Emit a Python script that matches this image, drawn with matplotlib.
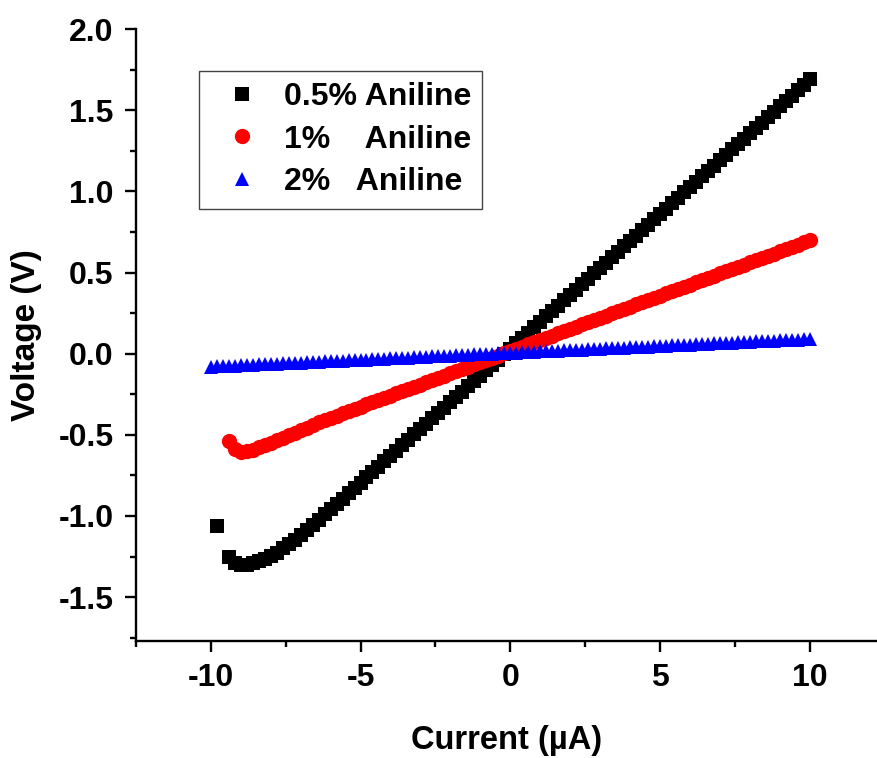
import numpy as np
import matplotlib
matplotlib.use('Agg')
import matplotlib.pyplot as plt
from matplotlib.ticker import MultipleLocator

plt.rcParams['font.family'] = ['Liberation Sans', 'DejaVu Sans']
plt.rcParams['font.weight'] = 'bold'
plt.rcParams['axes.unicode_minus'] = False

nan = np.nan

# Current sweep (uA)
current = [
    -10.0, -9.8, -9.6, -9.4, -9.2, -9.0, -8.8, -8.6, -8.4, -8.2,
    -8.0, -7.8, -7.6, -7.4, -7.2, -7.0, -6.8, -6.6, -6.4, -6.2,
    -6.0, -5.8, -5.6, -5.4, -5.2, -5.0, -4.8, -4.6, -4.4, -4.2,
    -4.0, -3.8, -3.6, -3.4, -3.2, -3.0, -2.8, -2.6, -2.4, -2.2,
    -2.0, -1.8, -1.6, -1.4, -1.2, -1.0, -0.8, -0.6, -0.4, -0.2,
    0.0, 0.2, 0.4, 0.6, 0.8, 1.0, 1.2, 1.4, 1.6, 1.8,
    2.0, 2.2, 2.4, 2.6, 2.8, 3.0, 3.2, 3.4, 3.6, 3.8,
    4.0, 4.2, 4.4, 4.6, 4.8, 5.0, 5.2, 5.4, 5.6, 5.8,
    6.0, 6.2, 6.4, 6.6, 6.8, 7.0, 7.2, 7.4, 7.6, 7.8,
    8.0, 8.2, 8.4, 8.6, 8.8, 9.0, 9.2, 9.4, 9.6, 9.8,
    10.0,
]

# Voltage (V) for each sample
v_05 = [
    nan, -1.06, nan, -1.25, -1.29, -1.30, -1.30, -1.29, -1.28, -1.265,
    -1.245, -1.225, -1.20, -1.175, -1.145, -1.115, -1.085, -1.055, -1.025, -0.99,
    -0.96, -0.927, -0.894, -0.861, -0.828, -0.795, -0.762, -0.729, -0.696, -0.663,
    -0.630, -0.597, -0.564, -0.531, -0.498, -0.465, -0.432, -0.399, -0.366, -0.333,
    -0.300, -0.267, -0.234, -0.201, -0.168, -0.135, -0.102, -0.069, -0.036, -0.003,
    0.030, 0.063, 0.096, 0.130, 0.163, 0.196, 0.229, 0.262, 0.296, 0.329,
    0.362, 0.395, 0.428, 0.462, 0.495, 0.528, 0.561, 0.594, 0.628, 0.661,
    0.694, 0.727, 0.760, 0.794, 0.827, 0.860, 0.893, 0.926, 0.960, 0.993,
    1.026, 1.059, 1.092, 1.126, 1.159, 1.192, 1.225, 1.258, 1.292, 1.325,
    1.358, 1.391, 1.424, 1.458, 1.491, 1.524, 1.557, 1.590, 1.624, 1.657,
    1.690,
]

v_1 = [
    nan, nan, nan, -0.54, -0.59, -0.603, -0.600, -0.592, -0.578, -0.563,
    -0.548, -0.533, -0.517, -0.502, -0.486, -0.470, -0.455, -0.440, -0.422, -0.408,
    -0.395, -0.381, -0.367, -0.354, -0.340, -0.326, -0.313, -0.299, -0.285, -0.272,
    -0.258, -0.244, -0.231, -0.217, -0.203, -0.190, -0.176, -0.162, -0.149, -0.135,
    -0.121, -0.107, -0.094, -0.080, -0.066, -0.053, -0.039, -0.025, -0.012, 0.002,
    0.016, 0.029, 0.043, 0.057, 0.070, 0.084, 0.098, 0.111, 0.125, 0.139,
    0.152, 0.166, 0.180, 0.193, 0.207, 0.221, 0.234, 0.248, 0.262, 0.276,
    0.289, 0.303, 0.317, 0.330, 0.344, 0.358, 0.371, 0.385, 0.399, 0.412,
    0.426, 0.440, 0.453, 0.467, 0.481, 0.494, 0.508, 0.522, 0.535, 0.549,
    0.563, 0.576, 0.590, 0.604, 0.617, 0.631, 0.645, 0.659, 0.672, 0.686,
    0.700,
]

v_2 = [
    -0.080, -0.078, -0.077, -0.075, -0.073, -0.072, -0.070, -0.068, -0.066, -0.065,
    -0.063, -0.061, -0.060, -0.058, -0.056, -0.055, -0.053, -0.051, -0.049, -0.048,
    -0.046, -0.044, -0.043, -0.041, -0.039, -0.038, -0.036, -0.034, -0.032, -0.031,
    -0.029, -0.027, -0.026, -0.024, -0.022, -0.021, -0.019, -0.017, -0.015, -0.014,
    -0.012, -0.010, -0.009, -0.007, -0.005, -0.004, -0.002, 0.000, 0.002, 0.003,
    0.005, 0.007, 0.008, 0.010, 0.012, 0.014, 0.015, 0.017, 0.019, 0.020,
    0.022, 0.024, 0.025, 0.027, 0.029, 0.031, 0.032, 0.034, 0.036, 0.037,
    0.039, 0.041, 0.042, 0.044, 0.046, 0.048, 0.049, 0.051, 0.053, 0.054,
    0.056, 0.058, 0.059, 0.061, 0.063, 0.065, 0.066, 0.068, 0.070, 0.071,
    0.073, 0.075, 0.076, 0.078, 0.080, 0.082, 0.083, 0.085, 0.087, 0.088,
    0.090,
]

labels = ['0.5% Aniline', '1%    Aniline', '2%   Aniline']

fig = plt.figure(figsize=(8.77, 7.58), dpi=100)
ax = fig.add_axes([0.155, 0.1544, 0.845, 0.8073])

# black, red, blue (blue on top)
ax.plot(current, v_05, 's', color='black', ms=9.5, mew=0, label=labels[0])
ax.plot(current, v_1, 'o', color='red', ms=11, mew=0, label=labels[1])
ax.plot(current, v_2, '^', color='blue', ms=10.5, mew=0, label=labels[2])

ax.set_xlim(-12.5, 12.25)
ax.set_ylim(-1.77, 2.0)

ax.xaxis.set_major_locator(MultipleLocator(5))
ax.xaxis.set_minor_locator(MultipleLocator(2.5))
ax.yaxis.set_major_locator(MultipleLocator(0.5))
ax.yaxis.set_minor_locator(MultipleLocator(0.25))

ax.spines['top'].set_visible(False)
ax.spines['right'].set_visible(False)
ax.spines['left'].set_linewidth(1.7)
ax.spines['bottom'].set_linewidth(1.7)

ax.tick_params(which='major', direction='out', length=8, width=1.7,
               labelsize=23, pad=8)
ax.tick_params(which='minor', direction='out', length=4, width=1.7)

ax.set_xlabel('Current (\u00b5A)', fontsize=23.5, fontweight='bold', labelpad=23)
ax.set_ylabel('Voltage (V)', fontsize=24, fontweight='bold', labelpad=12)

leg = ax.legend(loc='upper left', bbox_to_anchor=(0.085, 0.932),
                prop={'size': 23, 'weight': 'bold'}, frameon=True,
                fancybox=False, edgecolor='#444444', framealpha=1,
                borderpad=0.35, labelspacing=0.4, handlelength=2.0,
                handletextpad=0.3, numpoints=1, borderaxespad=0)
leg.get_frame().set_linewidth(1.0)

plt.savefig('out.png', dpi=100)
plt.close()
